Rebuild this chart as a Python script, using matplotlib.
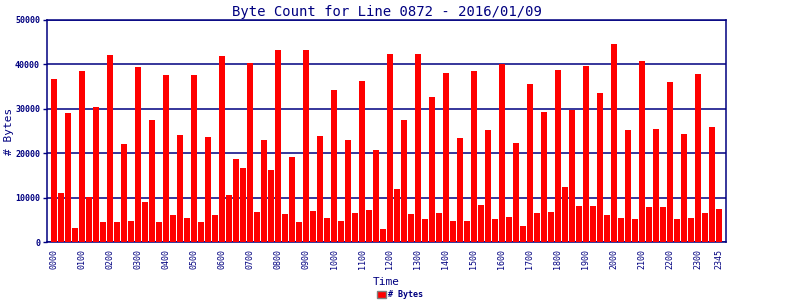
import matplotlib
matplotlib.use("Agg")
import matplotlib.pyplot as plt
from matplotlib.patches import Patch

# 15 minute byte counts, 0000 .. 2345
byte_counts = [
    36700, 11000, 29000, 3150, 38500, 10100, 30400, 4500,
    42100, 4500, 22100, 4700, 39400, 9000, 27500, 4500,
    37600, 6100, 24100, 5400, 37600, 4500, 23600, 6100,
    41900, 10600, 18700, 16700, 40400, 6800, 23000, 16200,
    43200, 6300, 19100, 4500, 43200, 7000, 23900, 5400,
    34200, 4700, 23000, 6500, 36300, 7200, 20700, 2900,
    42300, 11900, 27500, 6300, 42300, 5200, 32600, 6500,
    38100, 4700, 23400, 4700, 38500, 8300, 25200, 5200,
    40200, 5600, 22300, 3600, 35600, 6500, 29300, 6800,
    38700, 12400, 29800, 8100, 39600, 8100, 33500, 6100,
    44700, 5400, 25200, 5200, 40700, 7900, 25500, 7900,
    36000, 5200, 24300, 5400, 37800, 6500, 25900, 7400,
]
tick_labels = ["%02d00" % h for h in range(24)] + ["2345"]
tick_slots = list(range(0, 96, 4)) + [95]

title = "Byte Count for Line 0872 - 2016/01/09"
navy = "#000080"
mono = "DejaVu Sans Mono"

fig = plt.figure(figsize=(8, 3), dpi=100)
ax = fig.add_axes([47 / 800, 1 - 242 / 300, 679 / 800, 222 / 300])

bars = ax.bar(range(len(byte_counts)), byte_counts, width=0.86,
              color="#ff0000", zorder=3, label="# Bytes")

ax.set_xlim(-1.05, 96.05)
ax.set_ylim(0, 50000)
ax.set_yticks(range(0, 50001, 10000))
ax.set_yticklabels([str(v) for v in range(0, 50001, 10000)],
                   fontfamily=mono, fontsize=6, fontweight="bold", color=navy)
ax.set_xticks(tick_slots)
ax.set_xticklabels(tick_labels, rotation=90, fontfamily=mono, fontsize=6,
                   color=navy)
ax.tick_params(axis="y", length=3, width=1, color=navy, pad=2)
ax.tick_params(axis="x", length=0, pad=5)
ax.grid(axis="y", color=navy, linewidth=1.1, zorder=1)

for side in ax.spines.values():
    side.set_color(navy)
    side.set_linewidth(1.1)

ax.set_title(title, fontfamily=mono, fontsize=10, color=navy, pad=3)
ax.set_ylabel("# Bytes", fontfamily=mono, fontsize=8, color=navy, labelpad=1)
ax.set_xlabel("Time", fontfamily=mono, fontsize=8, color=navy, labelpad=6)

handle = Patch(facecolor="#ff0000", edgecolor="#808080", linewidth=1)
fig.legend([handle], ["# Bytes"], loc="center", bbox_to_anchor=(0.5, 0.017),
           frameon=False, handlelength=1.1, handleheight=0.9,
           handletextpad=0.3, prop={"family": mono, "size": 6,
                                    "weight": "bold"}, labelcolor=navy)

fig.savefig("out.png", dpi=100)
